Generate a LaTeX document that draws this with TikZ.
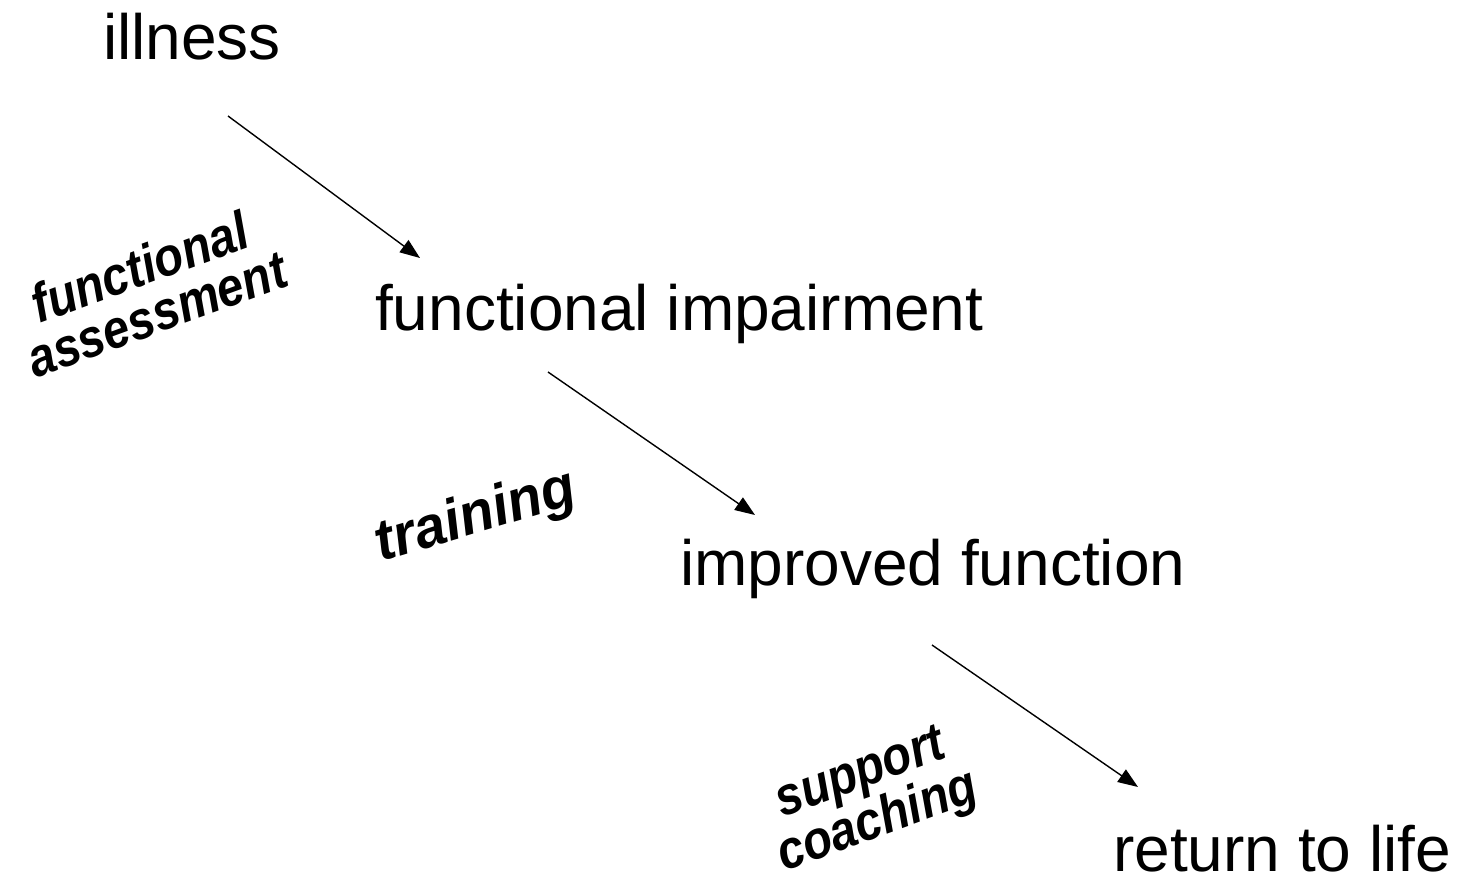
\documentclass[tikz,border=0pt]{standalone}
\usepackage{fontspec}
\setmainfont{Liberation Sans}
\usetikzlibrary{arrows.meta}
\begin{document}
\begin{tikzpicture}[x=1pt,y=-1pt,
  term/.style={anchor=base west,inner sep=0pt,font=\fontsize{64}{70}\selectfont},
  proc/.style={inner sep=0pt,align=center,font=\fontsize{54}{50}\selectfont\bfseries\itshape,rotate=20,xscale=0.88},
  conn/.style={line width=1.4pt,-{Triangle[length=20pt,width=15pt]}}]
\useasboundingbox (0,0) rectangle (1457,878);
\node[term] (ill) at (103,59) {illness};
\node[term] (imp) at (375,330) {functional impairment};
\node[term] (fun) at (680,585) {improved function};
\node[term] (ret) at (1113,871) {return to life};
\node[proc] (fa) at (148,290) {functional\\assessment};
\node[proc,rotate=-3,xscale=1.1,font=\fontsize{58}{60}\selectfont\bfseries\itshape] (tr) at (476,518) {training};
\node[proc] (sc) at (870,800) {support\\coaching};
\coordinate (a1) at (228,116); \coordinate (b1) at (420,258);
\coordinate (a2) at (548,372); \coordinate (b2) at (755,515);
\coordinate (a3) at (932,645); \coordinate (b3) at (1138,787);
\draw[conn] (a1) -- (b1);
\draw[conn] (a2) -- (b2);
\draw[conn] (a3) -- (b3);
\end{tikzpicture}
\end{document}
